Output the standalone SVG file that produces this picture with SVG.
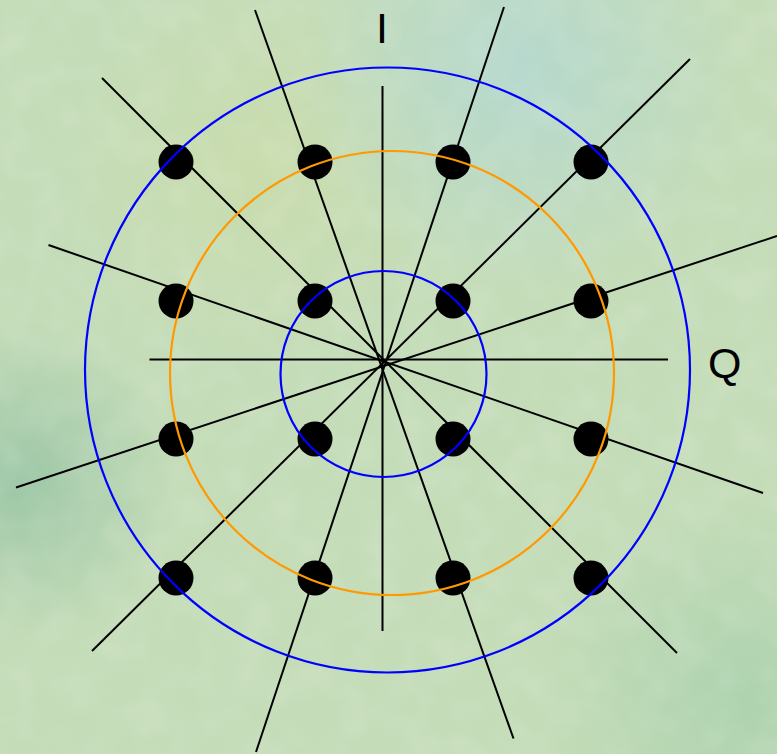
<svg xmlns="http://www.w3.org/2000/svg" width="777" height="754" viewBox="0 0 777 754">
<style>
.ax{stroke:#000;stroke-width:2;fill:none;stroke-linecap:butt}
.ring{fill:none;stroke-width:2.2}
.pt{fill:#000}
.lbl{font-family:"Liberation Sans",Arial,sans-serif;font-size:43px;fill:#000}
</style>
<defs>
<radialGradient id="g1" cx="520" cy="70" r="220" gradientUnits="userSpaceOnUse">
<stop offset="0" stop-color="#b4d8d0" stop-opacity="0.9"/>
<stop offset="1" stop-color="#b4d8d0" stop-opacity="0"/>
</radialGradient>
<radialGradient id="g2" cx="20" cy="480" r="160" gradientUnits="userSpaceOnUse">
<stop offset="0" stop-color="#98c4a4" stop-opacity="0.9"/>
<stop offset="1" stop-color="#98c4a4" stop-opacity="0"/>
</radialGradient>
<radialGradient id="g3" cx="260" cy="170" r="200" gradientUnits="userSpaceOnUse">
<stop offset="0" stop-color="#cadcaa" stop-opacity="0.8"/>
<stop offset="1" stop-color="#cadcaa" stop-opacity="0"/>
</radialGradient>
<radialGradient id="g4" cx="740" cy="700" r="200" gradientUnits="userSpaceOnUse">
<stop offset="0" stop-color="#a8d0ac" stop-opacity="0.8"/>
<stop offset="1" stop-color="#a8d0ac" stop-opacity="0"/>
</radialGradient>
<filter id="tex" x="0" y="0" width="100%" height="100%">
<feTurbulence type="fractalNoise" baseFrequency="0.03" numOctaves="2" seed="3" result="n"/>
<feColorMatrix in="n" type="matrix" values="0 0 0 0 1  0 0 0 0 1  0 0 0 0 1  0 0 0 0.35 -0.12"/>
</filter>
</defs>
<g id="background">
<rect width="777" height="754" fill="#c4dcb8"/>
<rect width="777" height="754" fill="url(#g3)"/>
<rect width="777" height="754" fill="url(#g1)"/>
<rect width="777" height="754" fill="url(#g2)"/>
<rect width="777" height="754" fill="url(#g4)"/>
<rect width="777" height="754" filter="url(#tex)" opacity="0.6"/>
</g>
<g id="connectors">
<line class="ax" x1="382.5" y1="86" x2="382.5" y2="631"/>
<line class="ax" x1="149.5" y1="359.5" x2="668" y2="359.5"/>
<line class="ax" x1="255" y1="10" x2="513.5" y2="738.5"/>
<line class="ax" x1="504" y1="7" x2="256" y2="752"/>
<line class="ax" x1="102" y1="78" x2="677" y2="653"/>
<line class="ax" x1="690" y1="59" x2="92" y2="651"/>
<line class="ax" x1="48.5" y1="245" x2="763" y2="493"/>
<line class="ax" x1="777" y1="236" x2="16" y2="487.5"/>
</g>
<g id="points">
<circle class="pt" cx="176" cy="162" r="17.5"/>
<circle class="pt" cx="315" cy="162" r="17.5"/>
<circle class="pt" cx="453" cy="162" r="17.5"/>
<circle class="pt" cx="591" cy="162" r="17.5"/>
<circle class="pt" cx="176" cy="301" r="17.5"/>
<circle class="pt" cx="315" cy="301" r="17.5"/>
<circle class="pt" cx="453" cy="301" r="17.5"/>
<circle class="pt" cx="591" cy="301" r="17.5"/>
<circle class="pt" cx="176" cy="439" r="17.5"/>
<circle class="pt" cx="315" cy="439" r="17.5"/>
<circle class="pt" cx="453" cy="439" r="17.5"/>
<circle class="pt" cx="591" cy="439" r="17.5"/>
<circle class="pt" cx="176" cy="578" r="17.5"/>
<circle class="pt" cx="315" cy="578" r="17.5"/>
<circle class="pt" cx="453" cy="578" r="17.5"/>
<circle class="pt" cx="591" cy="578" r="17.5"/>
</g>
<g id="rings">
<circle class="ring" cx="387.5" cy="370" r="302.5" stroke="#0000ff"/>
<circle class="ring" cx="392" cy="373" r="222" stroke="#ff9900"/>
<circle class="ring" cx="383.5" cy="374" r="103" stroke="#0000ff"/>
</g>
<g id="label-I"><text class="lbl" x="382" y="43" text-anchor="middle">I</text></g>
<g id="label-Q"><text class="lbl" x="708" y="378">Q</text></g>
</svg>
